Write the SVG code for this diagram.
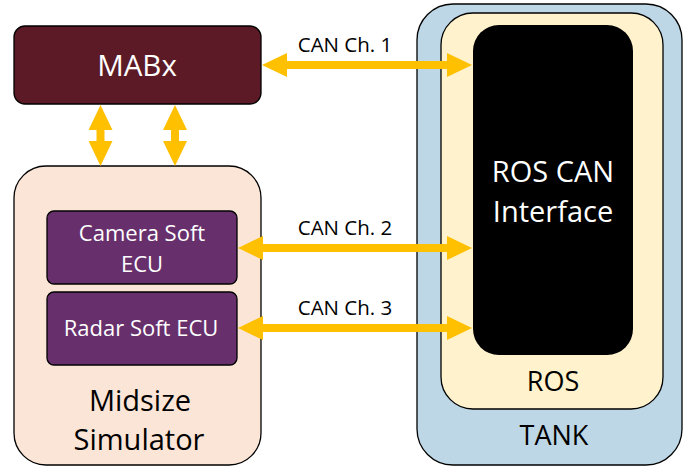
<svg xmlns="http://www.w3.org/2000/svg" width="683" height="466" viewBox="0 0 683 466">
<defs>
<marker id="ah" markerUnits="userSpaceOnUse" markerWidth="26" markerHeight="24" refX="1" refY="12" orient="auto-start-reverse" viewBox="0 0 26 24">
<path d="M0,0 L25,12 L0,24 z" fill="#FFC000"/>
</marker>
<style>
.box{stroke:#000;stroke-width:1.3}
.t{font-family:"Open Sans","Noto Sans","Liberation Sans",sans-serif;text-anchor:middle}
.w{fill:#fff}
.b{fill:#000}
.arr{stroke:#FFC000;stroke-width:8;fill:none;marker-start:url(#ah);marker-end:url(#ah)}
</style>
</defs>
<g id="tank">
<rect class="box" x="417" y="4" width="265" height="461" rx="36" fill="#BDD7E6"/>
<text class="t b" x="554" y="445" font-size="27">TANK</text>
</g>
<g id="ros">
<rect class="box" x="441" y="13" width="222" height="396" rx="32" fill="#FFF2CC"/>
<text class="t b" x="553" y="391" font-size="27">ROS</text>
</g>
<g id="ros-can">
<rect x="473" y="25" width="160" height="330" rx="26" fill="#000"/>
<text class="t w" x="553" y="182" font-size="29">ROS CAN</text>
<text class="t w" x="553" y="222" font-size="29">Interface</text>
</g>
<g id="mabx">
<rect class="box" x="14" y="26" width="247" height="78" rx="11" fill="#5C1A26"/>
<text class="t w" x="137" y="76" font-size="29.5">MABx</text>
</g>
<g id="midsize">
<rect class="box" x="14" y="166" width="247" height="299" rx="32" fill="#FBE5D6"/>
<text class="t b" x="140" y="411" font-size="29">Midsize</text>
<text class="t b" x="139" y="450" font-size="29">Simulator</text>
</g>
<g id="camera">
<rect class="box" x="47" y="211" width="190" height="73" rx="7" fill="#67306C"/>
<text class="t w" x="142" y="241" font-size="22">Camera Soft</text>
<text class="t w" x="142" y="272" font-size="22">ECU</text>
</g>
<g id="radar">
<rect class="box" x="47" y="292" width="190" height="73" rx="7" fill="#67306C"/>
<text class="t w" x="141" y="336" font-size="22">Radar Soft ECU</text>
</g>
<g id="connectors">
<line class="arr" x1="286" y1="65" x2="448" y2="65"/>
<line class="arr" x1="262" y1="248" x2="448" y2="248"/>
<line class="arr" x1="262" y1="328" x2="448" y2="328"/>
<line class="arr" x1="100.5" y1="129" x2="100.5" y2="142"/>
<line class="arr" x1="175" y1="129" x2="175" y2="142"/>
<text class="t b" x="345" y="52" font-size="20.5">CAN Ch. 1</text>
<text class="t b" x="345" y="235" font-size="20.5">CAN Ch. 2</text>
<text class="t b" x="345" y="315" font-size="20.5">CAN Ch. 3</text>
</g>
</svg>
